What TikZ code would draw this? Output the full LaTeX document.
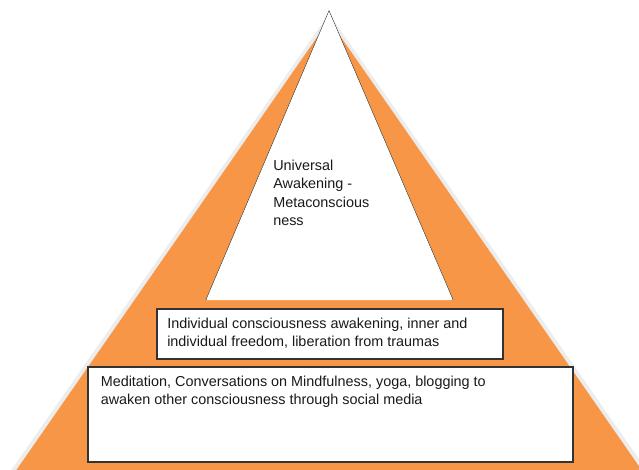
\documentclass[tikz,border=0pt]{standalone}
\usepackage{fontspec}
\setmainfont{Liberation Sans}
\definecolor{pyorange}{HTML}{F79646}
\definecolor{pyshadow}{HTML}{EDEDED}
\definecolor{pytext}{HTML}{1A1A1A}
\begin{document}
\begin{tikzpicture}[x=0.75pt,y=-0.75pt,
  lbl/.style={anchor=north west,inner sep=0pt,align=left,text=pytext,
    font=\fontsize{10.8}{13.8}\selectfont},
  boxed/.style={draw=black!80,line width=0.8pt,fill=white}]
\useasboundingbox (0,0) rectangle (639,469);
\begin{scope}
\clip (0,0) rectangle (639,469);
% soft grey fringe and orange pyramid
\draw[pyshadow,line width=3.2pt,line join=miter] (12.5,472) -- (329,17.5) -- (645.5,472);
\fill[pyorange] (15,472) -- (329,20) -- (643,472) -- cycle;
\end{scope}
% white top triangle
\draw[draw=black!75,line width=0.6pt,fill=white] (206,300) -- (329,11) -- (453,300);
\fill[white] (206.4,299.6) -- (329,11.6) -- (452.6,299.6) -- cycle;
\node[lbl] (top) at (273,159.5) {Universal\\Awakening -\\Metaconscious\\ness};
% middle box
\draw[boxed] (157,309) rectangle (503,359);
\node[lbl] (mid) at (167,317.5) {Individual consciousness awakening, inner and\\individual freedom, liberation from traumas};
% bottom box
\draw[boxed] (88,367) rectangle (573,462);
\node[lbl] (bot) at (100.5,375.5) {Meditation, Conversations on Mindfulness, yoga, blogging to\\awaken other consciousness through social media};
\end{tikzpicture}
\end{document}
